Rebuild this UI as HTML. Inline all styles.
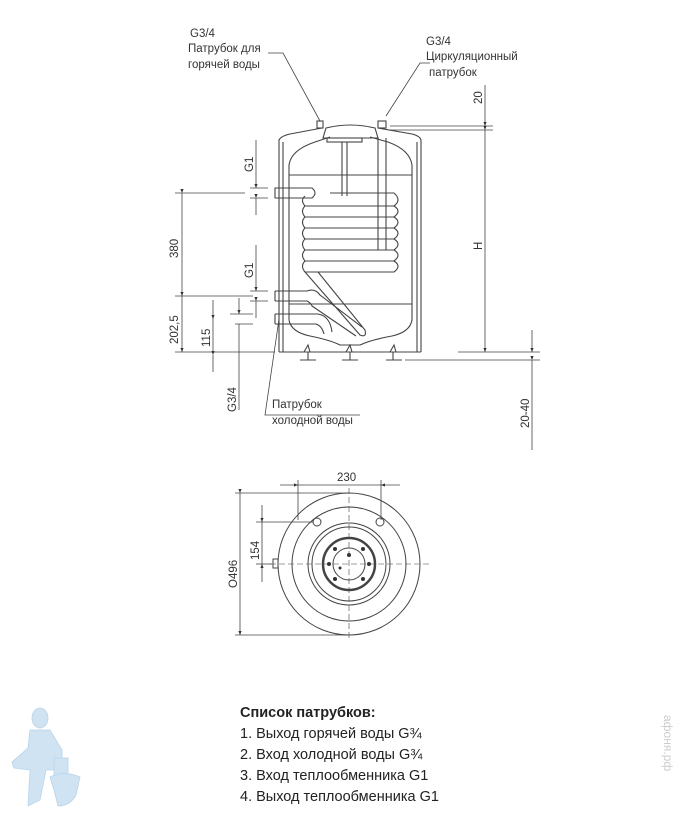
<!DOCTYPE html>
<html><head><meta charset="utf-8"><style>
html,body{margin:0;padding:0;background:#fff;}
svg{display:block;font-family:"Liberation Sans",sans-serif;}
.t{font-size:11.5px;fill:#333;}
.l{font-size:14.5px;fill:#222;}
</style></head><body>
<svg width="681" height="821" viewBox="0 0 681 821" xmlns="http://www.w3.org/2000/svg">
<defs>
<marker id="a" markerWidth="6" markerHeight="6" refX="5" refY="3" orient="auto"><path d="M0,1 L5,3 L0,5 Z" fill="#333"/></marker>
</defs>
<g fill="none" stroke="#444" stroke-width="1.1">
<!-- casing -->
<path d="M279,352 L279,140 Q281,136 290,134 L322,128"/>
<path d="M378,128 L412,134 Q420,136 421,140 L421,352"/>
<line x1="279" y1="352" x2="421" y2="352"/>
<path d="M283,352 L283,142 M417,352 L417,142"/>
<!-- tank -->
<path d="M289,320 L289,165 Q291,150 315,142 L330,137 M370,137 L388,142 Q410,150 412,165 L412,320 Q410,332 392,336 Q370,340 360,345 L340,345 Q330,340 310,336 Q291,332 289,320"/>
<line x1="289" y1="175" x2="412" y2="175"/>
<line x1="289" y1="304" x2="412" y2="304"/>
<!-- lid -->
<path d="M323,138 L326,128 Q350,122 375,128 L378,138 Z"/>
<rect x="327" y="138" width="35" height="4"/>
<rect x="317" y="121" width="6" height="7"/>
<rect x="378" y="121" width="8" height="7"/>
<!-- rods -->
<path d="M342,142 L342,196 M347,142 L347,196"/>
<path d="M378,138 L378,250 M386,138 L386,250 M378,250 L386,250"/>
<!-- coil -->
<g stroke-width="1.1">
<path d="M275,188 L312,188 Q318,193 312,198 L275,198 Z"/>
<path d="M305,196 Q300,200 305,206 L394,206 Q402,200 394,193 L330,193"/>
<path d="M305,206 Q300,211 305,217 L394,217 Q402,211 394,206"/>
<path d="M305,217 Q300,222 305,228 L394,228 Q402,222 394,217"/>
<path d="M305,228 Q300,233 305,239 L394,239 Q402,233 394,228"/>
<path d="M305,239 Q300,244 305,250 L394,250 Q402,244 394,239"/>
<path d="M305,250 Q300,255 305,261 L394,261 Q402,255 394,250"/>
<path d="M305,261 Q300,266 305,272 L394,272 Q402,266 394,261"/>
<path d="M305,272 L360,335 Q367,338 365,330 L318,272"/>
<path d="M275,291 L307,291 Q315,288 320,295 L362,327 M275,301 L307,301 Q311,303 312,306 L356,336"/>
<path d="M275,291 L275,301"/>
<path d="M275,314 L318,314 Q330,316 332,332 M275,324 L316,324 Q322,326 324,334 M275,314 L275,324"/>
</g>
<!-- feet -->
<path d="M304,352 L308,345 L310,352 M300,360 L316,360 M308,352 L308,360"/>
<path d="M346,352 L350,345 L352,352 M342,360 L358,360 M350,352 L350,360"/>
<path d="M390,352 L394,345 L396,352 M386,360 L402,360 M393,352 L393,360"/>
</g>
<!-- dimension lines -->
<g stroke="#444" stroke-width="0.8" fill="none">
<line x1="175" y1="193" x2="245" y2="193"/>
<line x1="175" y1="296" x2="253" y2="296"/>
<line x1="175" y1="352" x2="275" y2="352"/>
<line x1="230" y1="314" x2="253" y2="314"/>
<line x1="235" y1="324" x2="253" y2="324"/>
<line x1="182" y1="193" x2="182" y2="296" marker-start="url(#a)" marker-end="url(#a)"/>
<line x1="182" y1="296" x2="182" y2="352" marker-end="url(#a)"/>
<line x1="213" y1="300" x2="213" y2="319" marker-end="url(#a)"/>
<line x1="213" y1="355" x2="213" y2="372" marker-start="url(#a)"/>
<line x1="213" y1="319" x2="213" y2="352"/>
<line x1="239" y1="298" x2="239" y2="314" marker-end="url(#a)"/>
<line x1="239" y1="324" x2="239" y2="410"/>
<line x1="256" y1="140" x2="256" y2="188" marker-end="url(#a)"/>
<line x1="256" y1="198" x2="256" y2="215" marker-start="url(#a)"/>
<line x1="256" y1="245" x2="256" y2="291" marker-end="url(#a)"/>
<line x1="256" y1="301" x2="256" y2="318" marker-start="url(#a)"/>
<line x1="250" y1="188" x2="268" y2="188"/><line x1="250" y1="198" x2="268" y2="198"/>
<line x1="250" y1="291" x2="268" y2="291"/><line x1="250" y1="301" x2="268" y2="301"/>
<line x1="390" y1="126" x2="493" y2="126"/>
<line x1="390" y1="130" x2="493" y2="130"/>
<line x1="485" y1="85" x2="485" y2="126" marker-end="url(#a)"/>
<line x1="485" y1="130" x2="485" y2="352" marker-start="url(#a)" marker-end="url(#a)"/>
<line x1="458" y1="352" x2="540" y2="352"/>
<line x1="405" y1="360" x2="540" y2="360"/>
<line x1="532" y1="330" x2="532" y2="352" marker-end="url(#a)"/>
<line x1="532" y1="360" x2="532" y2="450" marker-start="url(#a)"/>
<!-- leaders -->
<path d="M268,53 L283,53 L320,121"/>
<path d="M430,63 L420,63 L386,116"/>
<path d="M279,319 L265,415 L360,415"/>
</g>
<!-- texts -->
<text class="t" x="190" y="37">G3/4</text>
<text class="t" x="188" y="52">Патрубок для</text>
<text class="t" x="188" y="68">горячей воды</text>
<text class="t" x="426" y="45">G3/4</text>
<text class="t" x="426" y="60">Циркуляционный</text>
<text class="t" x="429" y="76">патрубок</text>
<text class="t" x="272" y="408">Патрубок</text>
<text class="t" x="272" y="424">холодной воды</text>
<text class="t" transform="translate(482,104) rotate(-90)">20</text>
<text class="t" transform="translate(482,250) rotate(-90)">H</text>
<text class="t" transform="translate(529,428) rotate(-90)">20-40</text>
<text class="t" transform="translate(253,172) rotate(-90)">G1</text>
<text class="t" transform="translate(253,278) rotate(-90)">G1</text>
<text class="t" transform="translate(236,412) rotate(-90)">G3/4</text>
<text class="t" transform="translate(178,258) rotate(-90)">380</text>
<text class="t" transform="translate(178,344) rotate(-90)">202,5</text>
<text class="t" transform="translate(210,347) rotate(-90)">115</text>
<!-- plan view -->
<g fill="none" stroke="#444" stroke-width="1">
<circle cx="349" cy="564" r="71"/>
<circle cx="349" cy="564" r="57"/>
<circle cx="349" cy="564" r="41"/>
<circle cx="349" cy="564" r="37"/>
<circle cx="349" cy="564" r="26" stroke-width="2.5"/>
<circle cx="349" cy="564" r="16"/>
<circle cx="317" cy="522" r="4"/>
<circle cx="380" cy="522" r="4"/>
<rect x="273" y="559" width="5" height="9"/>
</g>
<g fill="#333"><circle cx="349" cy="555" r="2"/><circle cx="340" cy="568" r="1.5"/><circle cx="329" cy="564" r="2"/><circle cx="369" cy="564" r="2"/><circle cx="335" cy="549" r="2"/><circle cx="363" cy="549" r="2"/><circle cx="335" cy="579" r="2"/><circle cx="363" cy="579" r="2"/></g>
<g stroke="#444" stroke-width="0.6" fill="none" stroke-dasharray="6,3">
<line x1="270" y1="564" x2="430" y2="564"/>
<line x1="349" y1="488" x2="349" y2="640"/>
</g>
<g stroke="#444" stroke-width="0.8" fill="none">
<line x1="235" y1="493" x2="349" y2="493"/>
<line x1="235" y1="635" x2="349" y2="635"/>
<line x1="240" y1="493" x2="240" y2="635" marker-start="url(#a)" marker-end="url(#a)"/>
<line x1="298" y1="480" x2="298" y2="520"/>
<line x1="381" y1="480" x2="381" y2="520"/>
<line x1="298" y1="485" x2="381" y2="485"/>
<line x1="280" y1="485" x2="298" y2="485" marker-end="url(#a)"/>
<line x1="400" y1="485" x2="381" y2="485" marker-end="url(#a)"/>
<line x1="256" y1="522" x2="313" y2="522"/>
<line x1="256" y1="564" x2="272" y2="564"/>
<line x1="262" y1="505" x2="262" y2="522" marker-end="url(#a)"/>
<line x1="262" y1="522" x2="262" y2="564"/>
<line x1="262" y1="582" x2="262" y2="564" marker-end="url(#a)"/>
</g>
<text class="t" x="337" y="481" font-size="12">230</text>
<text class="t" transform="translate(259,560) rotate(-90)">154</text>
<text class="t" transform="translate(237,588) rotate(-90)" font-size="13">O496</text>
<!-- list -->
<text class="l" x="240" y="717" font-weight="bold">Список патрубков:</text>
<text class="l" x="240" y="738">1. Выход горячей воды G¾</text>
<text class="l" x="240" y="759">2. Вход холодной воды G¾</text>
<text class="l" x="240" y="780">3. Вход теплообменника G1</text>
<text class="l" x="240" y="801">4. Выход теплообменника G1</text>
<text transform="translate(664,715) rotate(90)" font-size="12" fill="#ccc">афоня.рф</text>
<!-- mascot -->
<g fill="#cfe3f3" stroke="#b8d4ea" stroke-width="0.8">
<ellipse cx="40" cy="718" rx="8" ry="10"/>
<path d="M30,730 L50,730 L62,750 L62,760 L56,763 L54,770 L46,770 L40,800 L28,806 L30,770 L14,768 L12,762 L28,748 Z"/>
<path d="M54,758 L68,758 L68,778 L54,778 Z"/>
<path d="M50,777 Q64,770 80,777 L76,795 Q70,806 58,806 L54,790 Z"/>
</g>
</svg>
</body></html>
